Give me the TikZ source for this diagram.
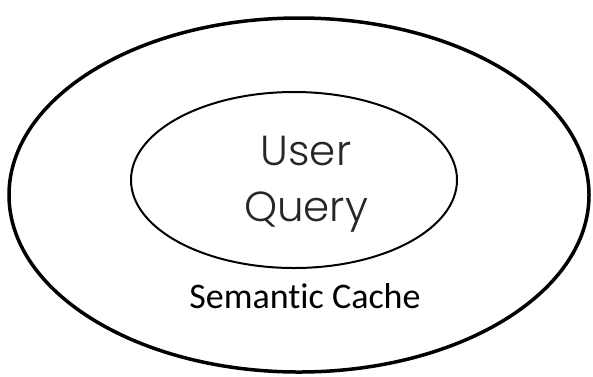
\documentclass[tikz,border=0pt]{standalone}
\usepackage{fontspec}
\newfontfamily\qfont{Poppins Light}
\newfontfamily\cfont[Ligatures=NoCommon]{Carlito}
\begin{document}
\begin{tikzpicture}[x=1pt,y=-1pt,
  outer/.style={draw=black,line width=3.5pt},
  inner/.style={draw=black,line width=2pt},
  qtext/.style={font=\qfont\fontsize{42}{56}\selectfont,text=black!85,align=center},
  ctext/.style={font=\cfont\fontsize{36}{40}\selectfont,text=black}]
\useasboundingbox (0,0) rectangle (593,376);
\draw[outer] (299,195) ellipse [x radius=290, y radius=177];
\draw[inner] (294,180) ellipse [x radius=163, y radius=88];
\node[qtext] (q) at (306,184) {User\\Query};
\node[ctext] (c) at (305,296) {Semantic Cache};
\end{tikzpicture}
\end{document}
